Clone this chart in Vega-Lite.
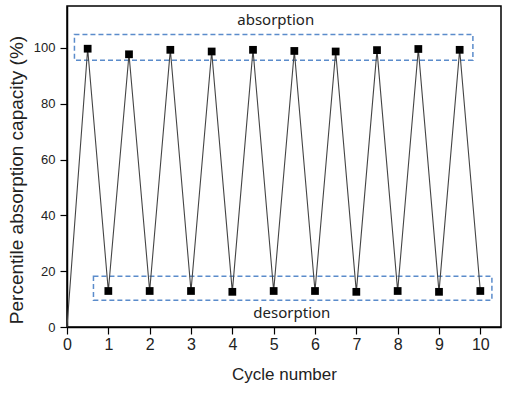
{
  "$schema": "https://vega.github.io/schema/vega-lite/v6.json",
  "autosize": {"type": "none"},
  "padding": {"left": 67, "top": 6, "right": 6, "bottom": 66},
  "width": 434,
  "height": 321,
  "background": "white",
  "config": {
    "font": "Liberation Sans",
    "view": {"stroke": "black", "strokeWidth": 1.5},
    "axis": {"grid": false, "domainColor": "black", "domainWidth": 1.5, "tickColor": "black", "tickWidth": 1.2, "labelColor": "#222", "titleColor": "#222", "labelFont": "Liberation Sans", "titleFont": "Liberation Sans", "titleFontWeight": "normal", "labelFontSize": 16, "titleFontSize": 17}
  },
  "datasets": {
    "cycles": [
      {"cycle": 0, "capacity": 0},
      {"cycle": 0.5, "capacity": 99.7},
      {"cycle": 1, "capacity": 12.9},
      {"cycle": 1.5, "capacity": 97.7},
      {"cycle": 2, "capacity": 12.9},
      {"cycle": 2.5, "capacity": 99.3},
      {"cycle": 3, "capacity": 12.9},
      {"cycle": 3.5, "capacity": 98.7},
      {"cycle": 4, "capacity": 12.6},
      {"cycle": 4.5, "capacity": 99.3},
      {"cycle": 5, "capacity": 12.9},
      {"cycle": 5.5, "capacity": 98.9},
      {"cycle": 6, "capacity": 12.9},
      {"cycle": 6.5, "capacity": 98.7},
      {"cycle": 7, "capacity": 12.6},
      {"cycle": 7.5, "capacity": 99.2},
      {"cycle": 8, "capacity": 12.9},
      {"cycle": 8.5, "capacity": 99.6},
      {"cycle": 9, "capacity": 12.6},
      {"cycle": 9.5, "capacity": 99.3},
      {"cycle": 10, "capacity": 12.9}
    ],
    "boxes": [
      {"x1": 0.18, "x2": 9.82, "y1": 95.6, "y2": 104.8},
      {"x1": 0.64, "x2": 10.28, "y1": 9.6, "y2": 18.2}
    ],
    "labels": [
      {"x": 5.05, "y": 110, "text": "absorption"},
      {"x": 5.44, "y": 4.9, "text": "desorption"}
    ]
  },
  "layer": [
    {
      "data": {"name": "boxes"},
      "mark": {"type": "rect", "fill": null, "fillOpacity": 0, "stroke": "#5b8ccb", "strokeWidth": 1.5, "strokeDash": [5, 3]},
      "encoding": {
        "x": {"field": "x1", "type": "quantitative", "scale": {"domain": [0, 10.5], "nice": false, "zero": false}},
        "x2": {"field": "x2"},
        "y": {"field": "y1", "type": "quantitative", "scale": {"domain": [0, 115], "nice": false}},
        "y2": {"field": "y2"}
      }
    },
    {
      "data": {"name": "cycles"},
      "mark": {"type": "line", "color": "#444", "strokeWidth": 1.1},
      "encoding": {
        "x": {"field": "cycle", "type": "quantitative", "title": "Cycle number",
          "axis": {"values": [0,0.5,1,1.5,2,2.5,3,3.5,4,4.5,5,5.5,6,6.5,7,7.5,8,8.5,9,9.5,10],
            "labelExpr": "datum.value % 1 === 0 ? datum.label : ''",
            "tickSize": {"condition": {"test": "datum.value % 1 === 0", "value": 7}, "value": 4},
            "labelPadding": 2, "titlePadding": 14, "labelFlush": false}},
        "y": {"field": "capacity", "type": "quantitative", "title": "Percentile absorption capacity (%)",
          "axis": {"values": [0,10,20,30,40,50,60,70,80,90,100,110],
            "labelExpr": "datum.value % 20 === 0 ? datum.label : ''",
            "tickSize": {"condition": {"test": "datum.value % 20 === 0", "value": 7}, "value": 4},
            "labelFontSize": 13, "titleFontSize": 19,
            "titleX": -41, "titleY": 173.5,
            "labelPadding": 5, "labelFlush": false}}
      }
    },
    {
      "data": {"name": "cycles"},
      "transform": [{"filter": "datum.cycle > 0"}],
      "mark": {"type": "square", "color": "black", "filled": true, "opacity": 1, "size": 60},
      "encoding": {
        "x": {"field": "cycle", "type": "quantitative"},
        "y": {"field": "capacity", "type": "quantitative"}
      }
    },
    {
      "data": {"name": "labels"},
      "mark": {"type": "text", "font": "Noto Sans", "fontSize": 15, "color": "#222"},
      "encoding": {
        "x": {"field": "x", "type": "quantitative"},
        "y": {"field": "y", "type": "quantitative"},
        "text": {"field": "text"}
      }
    }
  ]
}
